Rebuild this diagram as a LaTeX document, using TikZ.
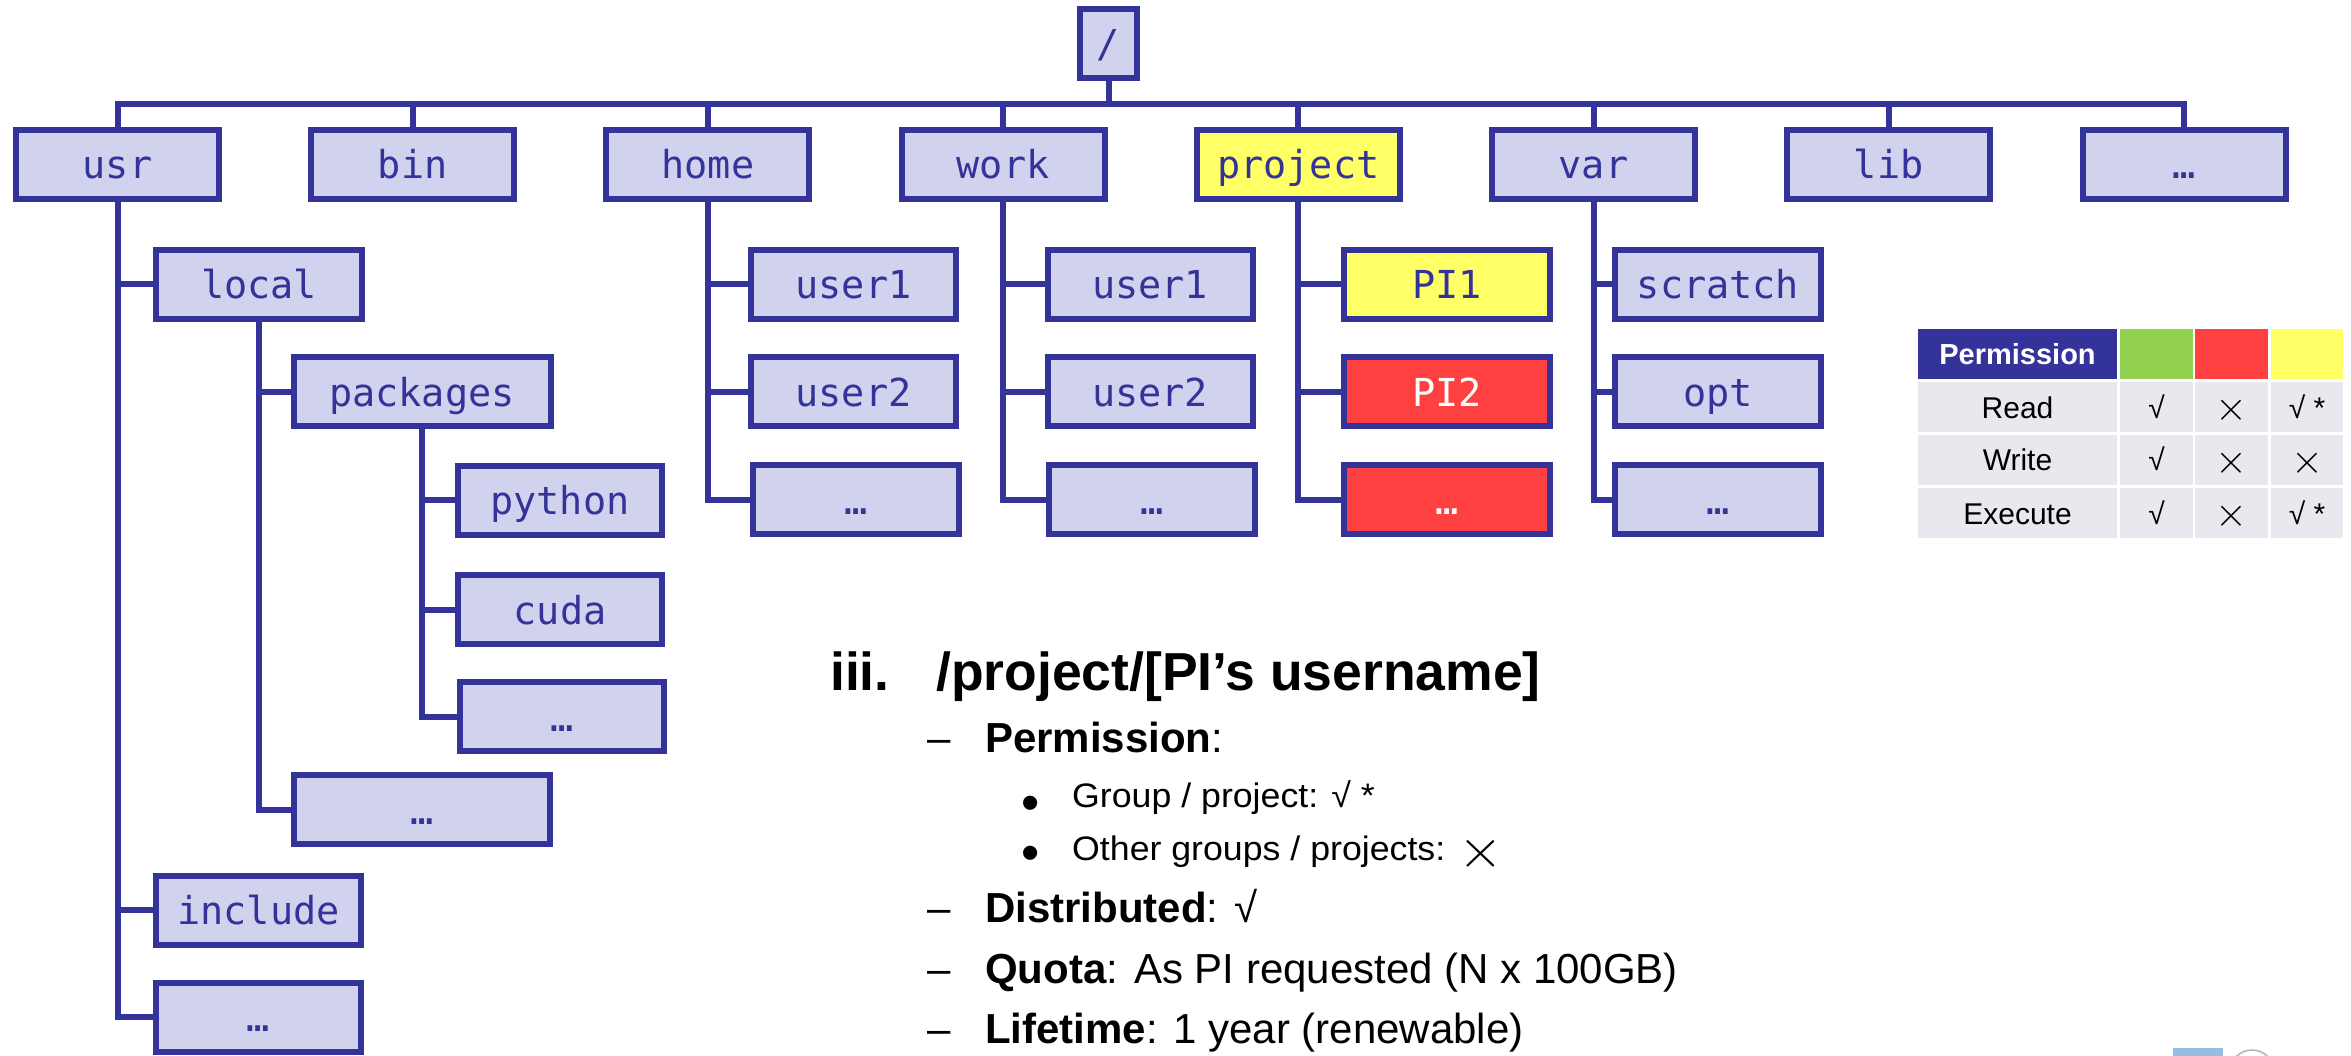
\documentclass[tikz,border=0pt]{standalone}
\usepackage{fontspec}
\setmainfont{Liberation Sans}
\newfontfamily\boxfont{DejaVu Sans Mono}
\usepackage{graphicx}
\definecolor{navy}{RGB}{51,51,153}
\definecolor{boxfill}{RGB}{209,210,238}
\definecolor{hiyellow}{RGB}{255,255,102}
\definecolor{hired}{RGB}{255,64,64}
\definecolor{higreen}{RGB}{146,208,80}
\definecolor{cellgray}{RGB}{232,232,238}
\definecolor{logoblue}{RGB}{150,190,225}
\newcommand{\tx}{\raisebox{-2.4pt}{\scalebox{1.65}{$\times$}}}
\begin{document}
\begin{tikzpicture}[x=1pt,y=-1pt,
  conn/.style={draw=navy, line width=6pt},
  dirbox/.style={draw=navy, line width=6pt, fill=boxfill, text=navy,
    font=\boxfont\fontsize{38.5}{40}\selectfont, inner sep=0pt,
    text height=29pt, text depth=0pt, minimum height=69pt, minimum width=#1},
  dirbox/.default=204pt,
  cell/.style={inner sep=0pt, minimum height=50pt, text height=22pt, text depth=0pt,
    font=\fontsize{30}{32}\selectfont, text=black, fill=cellgray, minimum width=#1},
  cell/.default=73pt,
  txt/.style={anchor=base west, inner sep=0pt, text=black},
  lone/.style={txt, font=\fontsize{42}{44}\selectfont},
  ltwo/.style={txt, font=\fontsize{34}{36}\selectfont},
  bul/.style={txt, font=\fontsize{52}{56}\selectfont},
]
\useasboundingbox[fill=white] (0,0) rectangle (2351,1056);

% root and top row
\node[dirbox=57pt] (root) at (1108.5,43.5) {/};
\node[dirbox=203pt] (usr) at (117.5,164.5) {usr};
\node[dirbox=203pt] (bin) at (412.7,164.5) {bin};
\node[dirbox=203pt] (home) at (707.9,164.5) {home};
\node[dirbox=203pt] (work) at (1003.1,164.5) {work};
\node[dirbox=203pt, fill=hiyellow] (project) at (1298.3,164.5) {project};
\node[dirbox=203pt] (var) at (1593.5,164.5) {var};
\node[dirbox=203pt] (lib) at (1888.7,164.5) {lib};
\node[dirbox=203pt] (topdots) at (2184,164.5) {…};

% usr subtree
\node[dirbox=206pt] (local) at (259,284.5) {local};
\node[dirbox=257pt] (packages) at (422,392) {packages};
\node[dirbox=204pt] (python) at (560,500) {python};
\node[dirbox=204pt] (cuda) at (560,609.5) {cuda};
\node[dirbox=204pt] (pkgdots) at (562,716.5) {…};
\node[dirbox=256pt] (localdots) at (422,809.5) {…};
\node[dirbox=205pt] (include) at (258.5,910) {include};
\node[dirbox=205pt] (usrdots) at (258.5,1017) {…};

% home subtree
\node[dirbox=205pt] (hu1) at (853.5,284.5) {user1};
\node[dirbox=205pt] (hu2) at (853.5,392) {user2};
\node[dirbox=206pt] (hdots) at (856,499.5) {…};
% work subtree
\node[dirbox=205pt] (wu1) at (1150,284.5) {user1};
\node[dirbox=205pt] (wu2) at (1150,392) {user2};
\node[dirbox=206pt] (wdots) at (1152,499.5) {…};
% project subtree
\node[dirbox=206pt, fill=hiyellow] (pi1) at (1447,284.5) {PI1};
\node[dirbox=206pt, fill=hired, text=white] (pi2) at (1447,392) {PI2};
\node[dirbox=206pt, fill=hired, text=white] (pdots) at (1447,499.5) {…};
% var subtree
\node[dirbox=206pt] (scratch) at (1718,284.5) {scratch};
\node[dirbox=206pt] (opt) at (1718,392) {opt};
\node[dirbox=206pt] (vdots) at (1718,499.5) {…};

% connectors
\coordinate (bus) at (0,104);
\draw[conn] (usr.north) -- (usr.north |- bus) -- (topdots.north |- bus) -- (topdots.north);
\foreach \n in {bin,home,work,project,var,lib} \draw[conn] (\n.north) -- (\n.north |- bus);
\draw[conn] (root.south) -- (root.south |- bus);

\draw[conn] (usr.south) -- (usr.south |- usrdots.west) -- (usrdots.west);
\foreach \c in {local,include} \draw[conn] (usr.south |- \c.west) -- (\c.west);
\draw[conn] (local.south) -- (local.south |- localdots.west) -- (localdots.west);
\draw[conn] (local.south |- packages.west) -- (packages.west);
\draw[conn] (packages.south) -- (packages.south |- pkgdots.west) -- (pkgdots.west);
\foreach \c in {python,cuda} \draw[conn] (packages.south |- \c.west) -- (\c.west);

\draw[conn] (home.south) -- (home.south |- hdots.west) -- (hdots.west);
\foreach \c in {hu1,hu2} \draw[conn] (home.south |- \c.west) -- (\c.west);
\draw[conn] (work.south) -- (work.south |- wdots.west) -- (wdots.west);
\foreach \c in {wu1,wu2} \draw[conn] (work.south |- \c.west) -- (\c.west);
\draw[conn] (project.south) -- (project.south |- pdots.west) -- (pdots.west);
\foreach \c in {pi1,pi2} \draw[conn] (project.south |- \c.west) -- (\c.west);
\draw[conn] (var.south) -- (var.south |- vdots.west) -- (vdots.west);
\foreach \c in {scratch,opt} \draw[conn] (var.south |- \c.west) -- (\c.west);

% permission table
\node[cell=199pt, fill=navy, text=white, font=\bfseries\fontsize{29}{31}\selectfont] (th) at (2017.5,354) {Permission};
\node[cell=73pt, fill=higreen] (tg) at (2156.5,354) {};
\node[cell=73pt, fill=hired] (tr) at (2231.5,354) {};
\node[cell=72pt, fill=hiyellow] (ty) at (2307,354) {};
\node[cell=199pt] (r1) at (2017.5,407) {Read};
\node[cell=73pt] (r1g) at (2156.5,407) {√};
\node[cell=73pt] (r1r) at (2231.5,407) {\tx};
\node[cell=72pt] (r1y) at (2307,407) {√ *};
\node[cell=199pt] (r2) at (2017.5,460) {Write};
\node[cell=73pt] (r2g) at (2156.5,460) {√};
\node[cell=73pt] (r2r) at (2231.5,460) {\tx};
\node[cell=72pt] (r2y) at (2307,460) {\tx};
\node[cell=199pt] (r3) at (2017.5,513) {Execute};
\node[cell=73pt] (r3g) at (2156.5,513) {√};
\node[cell=73pt] (r3r) at (2231.5,513) {\tx};
\node[cell=72pt] (r3y) at (2307,513) {√ *};

% text block
\node[txt, font=\bfseries\fontsize{53.5}{60}\selectfont] (tnum) at (830,690) {iii.};
\node[txt, font=\bfseries\fontsize{53.5}{60}\selectfont] (ttitle) at (936,690) {/project/[PI’s username]};
\node[lone] (d1) at (927,752) {–};
\node[lone] (l1) at (985,752) {\textbf{Permission}:};
\node[bul] (b1) at (1021,820) {•};
\node[ltwo] (l2) at (1072,807) {\scalebox{1.05}[1]{Group / project: √ *}};
\node[bul] (b2) at (1021,870) {•};
\node[ltwo] (l3) at (1072,860) {\scalebox{1.05}[1]{Other groups / projects: \raisebox{-7.7pt}{\scalebox{2.2}{$\times$}}}};
\node[lone] (d2) at (927,922) {–};
\node[lone] (l4) at (985,922) {\textbf{Distributed}: √};
\node[lone] (d3) at (927,983) {–};
\node[lone] (l5) at (985,983) {\textbf{Quota}: As PI requested (N x 100GB)};
\node[lone] (d4) at (927,1043) {–};
\node[lone] (l6) at (985,1043) {\textbf{Lifetime}: 1 year (renewable)};

% clipped logo fragment
\begin{scope}
\clip (0,0) rectangle (2351,1056);
\fill[logoblue] (2173,1048) rectangle (2223,1060);
\draw[gray!60, line width=1.5pt] (2252,1072) circle (22);
\end{scope}
\end{tikzpicture}
\end{document}
